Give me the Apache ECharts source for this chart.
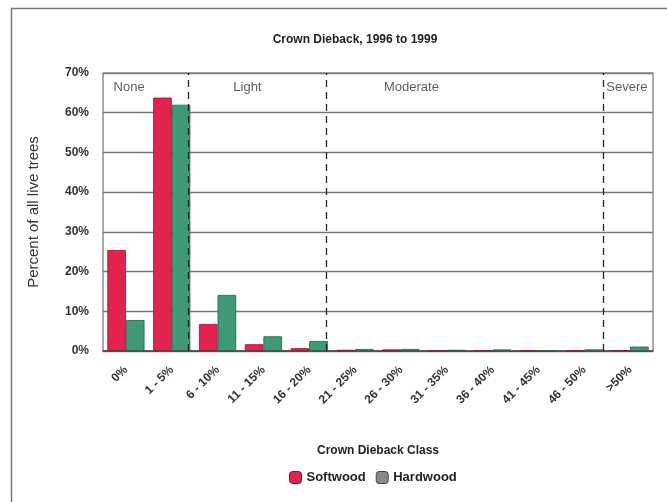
<!DOCTYPE html>
<html>
<head>
<meta charset="utf-8">
<script src="https://cdn.jsdelivr.net/npm/echarts@6/dist/echarts.min.js"></script>
<style>
  html, body { margin: 0; padding: 0; background: #fff; }
  #chart { width: 667px; height: 502px; }
</style>
</head>
<body>
<div id="chart"></div>
<script>
// Crown dieback classes (x axis)
const categories = ['0%', '1 - 5%', '6 - 10%', '11 - 15%', '16 - 20%', '21 - 25%',
  '26 - 30%', '31 - 35%', '36 - 40%', '41 - 45%', '46 - 50%', '>50%'];

// Percent of all live trees, by class
const softwood = [25.4, 63.8, 6.8, 1.7, 0.7, 0.3, 0.4, 0.2, 0.2, 0.1, 0.1, 0.2];
const hardwood = [7.8, 62.0, 14.1, 3.7, 2.5, 0.5, 0.5, 0.3, 0.4, 0.1, 0.4, 1.1];

// Severity group dividers and labels, in category-index units
const dividers = [1.37, 4.37, 10.42];
const zoneNames = ['None', 'Light', 'Moderate', 'Severe'];
const zoneCenters = [0.07, 2.65, 6.23, 10.93];
const zoneLabelLevel = 66.3;

const yTicks = { min: 0, max: 70, interval: 10 };

const chart = echarts.init(document.getElementById('chart'));
const font = 'Liberation Sans, Arial, sans-serif';

chart.setOption({
  animation: false,
  backgroundColor: '#fff',
  title: {
    text: 'Crown Dieback, 1996 to 1999',
    left: 350, top: 29, textAlign: 'center',
    textStyle: { fontFamily: font, fontSize: 12, fontWeight: 'bold', color: '#222' }
  },
  graphic: [{
    type: 'rect', left: 9, top: 6,
    shape: { width: 700, height: 520 },
    style: { fill: 'none', stroke: '#777', lineWidth: 1.5 }
  }],
  legend: {
    bottom: 13, left: 284,
    itemWidth: 12, itemHeight: 12, itemGap: 10,
    textStyle: { fontFamily: font, fontSize: 13, fontWeight: 'bold', color: '#222' },
    data: [
      { name: 'Softwood', itemStyle: { color: '#e3224f', borderColor: '#7a1020', borderWidth: 1 } },
      { name: 'Hardwood', itemStyle: { color: '#8a8a8a', borderColor: '#444', borderWidth: 1 } }
    ]
  },
  grid: { left: 103, right: 14, top: 73, bottom: 151, show: true, borderColor: '#555', borderWidth: 1 },
  xAxis: [{
    type: 'category', data: categories,
    name: 'Crown Dieback Class', nameLocation: 'middle', nameGap: 94,
    nameTextStyle: { fontFamily: font, fontSize: 12, fontWeight: 'bold', color: '#222' },
    axisTick: { show: false },
    axisLine: { lineStyle: { color: '#444', width: 1.5 } },
    axisLabel: { rotate: 45, interval: 0, margin: 17, fontFamily: font, fontSize: 12,
      fontWeight: 'bold', color: '#333' }
  }, {
    type: 'value', min: -0.5, max: 11.5, show: false
  }],
  yAxis: {
    type: 'value', min: yTicks.min, max: yTicks.max, interval: yTicks.interval,
    name: 'Percent of all live trees', nameLocation: 'middle', nameGap: 62,
    nameTextStyle: { fontFamily: font, fontSize: 15, color: '#333' },
    axisLine: { show: false }, axisTick: { show: false },
    axisLabel: { formatter: '{value}%', margin: 14, fontFamily: font, fontSize: 12,
      fontWeight: 'bold', color: '#333' },
    splitLine: { lineStyle: { color: '#777', width: 1.3 } }
  },
  series: [{
    name: 'Softwood', type: 'bar', data: softwood,
    barCategoryGap: '19%', barGap: '0%',
    itemStyle: { color: '#e3224f', borderColor: '#8a1a2c', borderWidth: 0.8 }
  }, {
    name: 'Hardwood', type: 'bar', data: hardwood,
    itemStyle: { color: '#3f9a77', borderColor: '#2a5a48', borderWidth: 0.8 }
  }, {
    name: 'zones', type: 'scatter', xAxisIndex: 1, symbolSize: 0, silent: true,
    data: zoneCenters.map((x, i) => ({ value: [x, zoneLabelLevel], name: zoneNames[i] })),
    label: { show: true, position: 'inside', formatter: p => p.name,
      fontFamily: font, fontSize: 13, color: '#333' },
    markLine: {
      silent: true, symbol: 'none', label: { show: false },
      lineStyle: { type: [7, 5], color: '#222', width: 1.3 },
      data: dividers.map(x => ({ xAxis: x }))
    },
    z: 5
  }]
});
</script>
</body>
</html>
